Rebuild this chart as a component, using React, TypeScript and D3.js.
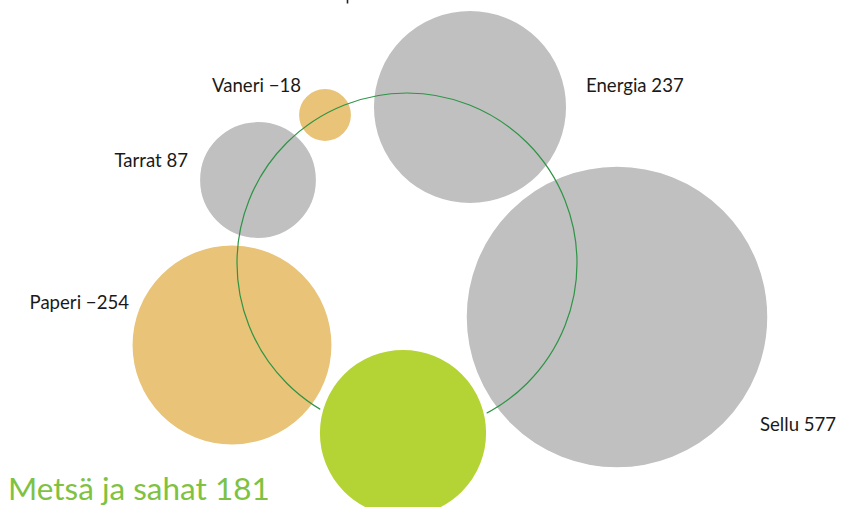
import React from "react";
import * as d3 from "d3";

const categories = ["Energia", "Vaneri", "Tarrat", "Paperi", "Sellu", "Metsä ja sahat"];
const values = [237, -18, 87, -254, 577, 181];
// layout (centers) of the bubbles in the picture
const centersX = [470, 325, 258, 232, 617, 403];
const centersY = [107, 115, 180, 345, 317, 433];
const labelX = [586, 301, 188, 129, 760, 8];
const labelY = [92, 92, 167, 309, 431, 500];
const labelAnchor = ["start", "end", "end", "end", "start", "start"];

const W = 843;
const H = 507;

export default function App() {
  const r = d3.scaleSqrt().domain([0, 577]).range([0, 151]);
  const color = (i: number) =>
    i === 5 ? "#b4d334" : values[i] < 0 ? "#e8c378" : "#c0c0c0";
  const order = [0, 1, 2, 3, 4];
  return (
    <svg
      width={W}
      height={H}
      style={{ position: "absolute", left: 0, top: 0, background: "#fff" }}
    >
      {order.map((i) => (
        <circle
          key={categories[i]}
          cx={centersX[i]}
          cy={centersY[i]}
          r={r(Math.abs(values[i]))}
          fill={color(i)}
          stroke="#fff"
          strokeWidth={1.5}
        />
      ))}
      <circle cx={407} cy={263} r={170} fill="none" stroke="#2e9446" strokeWidth={1.2} />
      <circle
        cx={centersX[5]}
        cy={centersY[5]}
        r={r(values[5])}
        fill={color(5)}
        stroke="#fff"
        strokeWidth={3}
      />
      <line x1={347.5} x2={347.5} y1={0} y2={3.5} stroke="#222" strokeWidth={1.6} />
      {categories.map((c, i) => (
        <text
          key={"l" + c}
          x={labelX[i]}
          y={labelY[i]}
          textAnchor={labelAnchor[i] as any}
          fontFamily="Lato, 'DejaVu Sans', sans-serif"
          fontSize={i === 5 ? 31.5 : 18.6}
          fill={i === 5 ? "#7fc241" : "#1a1a1a"}
        >
          {c + " " + (values[i] < 0 ? "\u2212" + Math.abs(values[i]) : values[i])}
        </text>
      ))}
    </svg>
  );
}
